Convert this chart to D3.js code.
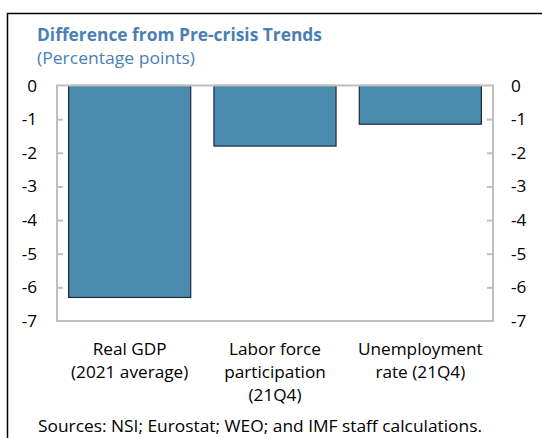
<!DOCTYPE html>
<html>
<head>
<meta charset="utf-8">
<script src="https://cdn.jsdelivr.net/npm/d3@7"></script>
<style>
  html, body { margin: 0; padding: 0; background: #fff; }
  svg { display: block; }
  text { font-family: "Open Sans", "Noto Sans", sans-serif; }
</style>
</head>
<body>
<svg id="chart" width="542" height="438"></svg>
<script>
// ---- data ----
const categories = [
  ["Real GDP", "(2021 average)"],
  ["Labor force", "participation", "(21Q4)"],
  ["Unemployment", "rate (21Q4)"]
];
const values = [-6.3, -1.8, -1.15];
const yTicks = [0, -1, -2, -3, -4, -5, -6, -7];
const titleText = "Difference from Pre-crisis Trends";
const subtitleText = "(Percentage points)";
const sourceText = "Sources: NSI; Eurostat; WEO; and IMF staff calculations.";

// ---- layout ----
const W = 542, H = 438;
const plot = { left: 57, right: 493, top: 85.5, bottom: 321 };
const fs = 17.2;
const svg = d3.select("#chart");

const defs = svg.append("defs");
const pat = defs.append("pattern")
  .attr("id", "dots").attr("patternUnits", "userSpaceOnUse")
  .attr("width", 8).attr("height", 8);
pat.append("rect").attr("width", 8).attr("height", 8).attr("fill", "#4a8aad");
pat.append("rect").attr("x", 3).attr("y", 3).attr("width", 1.2).attr("height", 1.2).attr("fill", "#3f7fa5");

// outer border
svg.append("rect")
  .attr("x", 7.5).attr("y", 13.5).attr("width", 560).attr("height", 460)
  .attr("fill", "none").attr("stroke", "#000").attr("stroke-width", 1.5);

// title
svg.append("text").attr("x", 37).attr("y", 41)
  .attr("font-size", 17).attr("font-weight", "bold").attr("fill", "#4a7fb5")
  .attr("textLength", 285).attr("lengthAdjust", "spacingAndGlyphs")
  .text(titleText);
svg.append("text").attr("x", 37).attr("y", 64)
  .attr("font-size", fs).attr("fill", "#4a7fb5")
  .attr("textLength", 158).attr("lengthAdjust", "spacingAndGlyphs")
  .text(subtitleText);

const x = d3.scaleBand()
  .domain(d3.range(categories.length))
  .range([plot.left, plot.right])
  .paddingInner(0.16).paddingOuter(0.08);
const y = d3.scaleLinear().domain([-7, 0]).range([plot.bottom, plot.top]);

// bars
svg.append("g").selectAll("rect").data(values).join("rect")
  .attr("x", (d, i) => x(i))
  .attr("width", x.bandwidth())
  .attr("y", d => y(Math.max(0, d)))
  .attr("height", d => Math.abs(y(d) - y(0)))
  .attr("fill", "url(#dots)")
  .attr("stroke", "#1b2a36").attr("stroke-width", 1.2);

// axes
const axisColor = "#bfbfbf";
const leftAxis = d3.axisRight(y).tickValues(yTicks).tickSize(6).tickFormat("");
const rightAxis = d3.axisLeft(y).tickValues(yTicks).tickSize(6).tickFormat("");
const gl = svg.append("g").attr("transform", `translate(${plot.left},0)`).call(leftAxis);
const gr = svg.append("g").attr("transform", `translate(${plot.right},0)`).call(rightAxis);
[gl, gr].forEach(g => {
  g.select(".domain").remove();
  g.selectAll(".tick line").attr("stroke", axisColor).attr("stroke-width", 2)
    .filter(d => d === 0 || d === -7).remove();
});

// frame
const frame = svg.append("g").attr("stroke", axisColor).attr("stroke-width", 2).attr("fill", "none");
frame.append("line").attr("x1", plot.left - 1).attr("x2", plot.right + 1).attr("y1", y(0)).attr("y2", y(0));
frame.append("line").attr("x1", plot.left - 1).attr("x2", plot.right + 1).attr("y1", y(-7)).attr("y2", y(-7));
frame.append("line").attr("x1", plot.left).attr("x2", plot.left).attr("y1", y(0)).attr("y2", y(-7));
frame.append("line").attr("x1", plot.right).attr("x2", plot.right).attr("y1", y(0)).attr("y2", y(-7));

// tick labels
svg.append("g").selectAll("text").data(yTicks).join("text")
  .attr("x", 37).attr("y", d => y(d)).attr("dy", "0.35em")
  .attr("text-anchor", "end").attr("font-size", fs).attr("fill", "#000")
  .text(d => d);
svg.append("g").selectAll("text").data(yTicks).join("text")
  .attr("x", 511).attr("y", d => y(d)).attr("dy", "0.35em")
  .attr("text-anchor", "start").attr("font-size", fs).attr("fill", "#000")
  .text(d => d);

// category labels
const cl = svg.append("g").selectAll("text").data(categories).join("text")
  .attr("x", (d, i) => x(i) + x.bandwidth() / 2)
  .attr("y", 355)
  .attr("text-anchor", "middle").attr("font-size", fs).attr("fill", "#000");
cl.selectAll("tspan").data(d => d).join("tspan")
  .attr("x", function () { return d3.select(this.parentNode).attr("x"); })
  .attr("dy", (d, i) => i === 0 ? 0 : 23)
  .text(d => d);

// source
svg.append("text").attr("x", 38).attr("y", 432)
  .attr("font-size", fs).attr("fill", "#000")
  .attr("textLength", 444).attr("lengthAdjust", "spacingAndGlyphs")
  .text(sourceText);
</script>
</body>
</html>
